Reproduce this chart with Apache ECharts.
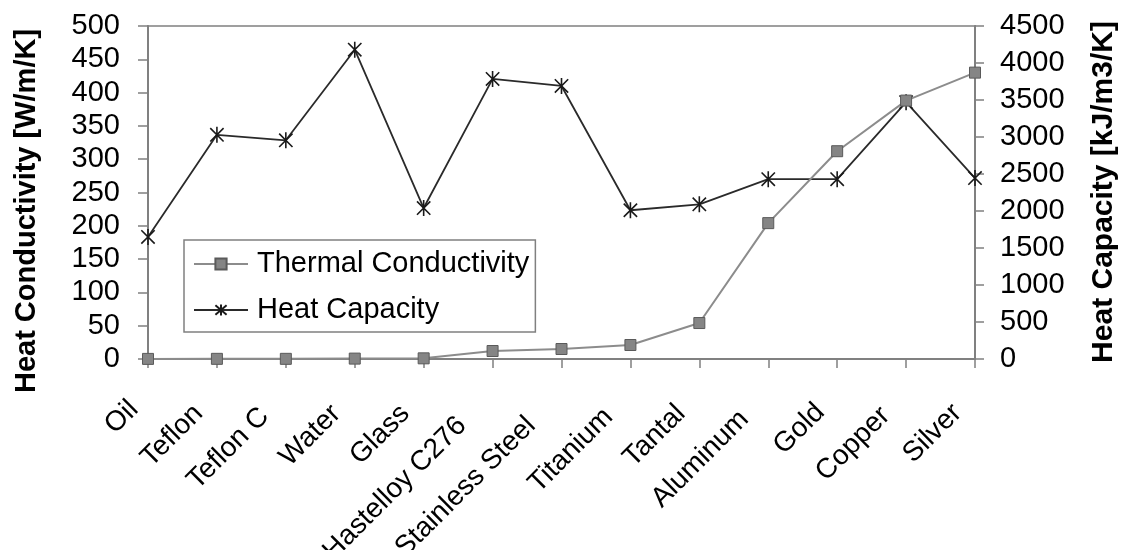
<!DOCTYPE html>
<html>
<head>
<meta charset="utf-8">
<script src="https://cdn.jsdelivr.net/npm/echarts@6/dist/echarts.min.js"></script>
<style>html,body{margin:0;padding:0;background:#fff;}#c{width:1121px;height:550px;}</style>
</head>
<body>
<div id="c"></div>
<script>
const categories = ['Oil','Teflon','Teflon C','Water','Glass','Hastelloy C276','Stainless Steel','Titanium','Tantal','Aluminum','Gold','Copper','Silver'];
const thermalConductivity = [0.15, 0.25, 0.25, 0.6, 1.0, 12, 15, 21, 54, 204, 312, 388, 430];
const heatCapacity = [1650, 3030, 2955, 4180, 2040, 3785, 3690, 2010, 2090, 2430, 2430, 3470, 2445];
const leftTicks = {min: 0, max: 500, interval: 50};
const rightTicks = {min: 0, max: 4500, interval: 500};

const FONT = '"Liberation Sans", Arial, sans-serif';
const LABEL_SIZE = 28;

// Excel-style placement of rotated category labels: longer labels sit a bit further along their slant
const ctx = document.createElement('canvas').getContext('2d');
ctx.font = LABEL_SIZE + 'px ' + FONT;
const xData = categories.map(function (c) {
  const w = ctx.measureText(c).width;
  const a = Math.round(20 + 0.15 * (w - 34));
  return {value: c, textStyle: {padding: [0, a, 0, 0]}};
});

const chart = echarts.init(document.getElementById('c'), null, {renderer: 'canvas'});
const starPath = 'path://M0,0L10,10M10,0L0,10M5,-1L5,11';
chart.setOption({
  animation: false,
  backgroundColor: '#ffffff',
  grid: {left: 148, right: 146, top: 26, bottom: 191, containLabel: false, outerBoundsMode: 'none',
         show: true, borderColor: '#808080', borderWidth: 1.5, backgroundColor: 'transparent'},
  legend: {
    orient: 'vertical', left: 184, top: 240,
    padding: [9, 6, 7, 9], itemGap: 16, itemWidth: 54, itemHeight: 14,
    borderColor: '#808080', borderWidth: 1.5, backgroundColor: '#fff',
    textStyle: {fontFamily: FONT, fontSize: 29, color: '#000', lineHeight: 30, padding: [0, 0, 0, 4]},
    data: ['Thermal Conductivity', 'Heat Capacity']
  },
  xAxis: {
    type: 'category', data: xData, boundaryGap: false,
    axisLine: {lineStyle: {color: '#808080', width: 2}},
    axisTick: {show: true, length: 9, lineStyle: {color: '#808080', width: 1.5}},
    axisLabel: {rotate: 45, margin: 32, fontFamily: FONT, fontSize: LABEL_SIZE, color: '#000', interval: 0, hideOverlap: false},
    splitLine: {show: false}
  },
  yAxis: [
    {type: 'value', min: leftTicks.min, max: leftTicks.max, interval: leftTicks.interval, position: 'left',
     axisLine: {show: true, lineStyle: {color: '#808080', width: 2}},
     axisTick: {show: true, length: 10, lineStyle: {color: '#808080', width: 1.5}},
     axisLabel: {margin: 28, fontFamily: FONT, fontSize: 29, color: '#000', formatter: function (v) { return String(v); }},
     splitLine: {show: false}},
    {type: 'value', min: rightTicks.min, max: rightTicks.max, interval: rightTicks.interval, position: 'right',
     axisLine: {show: true, lineStyle: {color: '#808080', width: 2}},
     axisTick: {show: true, length: 9, lineStyle: {color: '#808080', width: 1.5}},
     axisLabel: {margin: 25, fontFamily: FONT, fontSize: 29, color: '#000', formatter: function (v) { return String(v); }},
     splitLine: {show: false}}
  ],
  series: [
    {name: 'Thermal Conductivity', type: 'line', yAxisIndex: 0, data: thermalConductivity,
     symbol: 'rect', symbolSize: 11,
     lineStyle: {color: '#8c8c8c', width: 2},
     itemStyle: {color: '#858585', borderColor: '#5a5a5a', borderWidth: 1},
     z: 3},
    {name: 'Heat Capacity', type: 'line', yAxisIndex: 1, data: heatCapacity,
     symbol: starPath, symbolSize: 16, symbolKeepAspect: true,
     lineStyle: {color: '#2a2a2a', width: 1.8},
     itemStyle: {color: '#1a1a1a', borderColor: '#1a1a1a', borderWidth: 1.6},
     z: 2}
  ],
  graphic: [
    {type: 'text', x: 27, y: 211, rotation: Math.PI / 2,
     style: {text: 'Heat Conductivity [W/m/K]', x: 0, y: 0, align: 'center', verticalAlign: 'middle',
             font: 'bold 29px "Liberation Sans", Arial, sans-serif', fill: '#000'}},
    {type: 'text', x: 1104, y: 192, rotation: Math.PI / 2,
     style: {text: 'Heat Capacity [kJ/m3/K]', x: 0, y: 0, align: 'center', verticalAlign: 'middle',
             font: 'bold 30px "Liberation Sans", Arial, sans-serif', fill: '#000'}}
  ]
});
</script>
</body>
</html>
